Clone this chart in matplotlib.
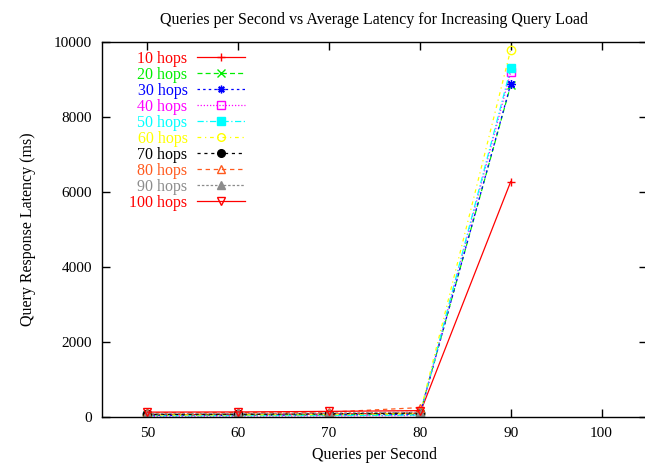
import matplotlib
matplotlib.use("Agg")
import matplotlib.pyplot as plt

plt.rcParams["font.family"] = ["Liberation Serif", "DejaVu Serif"]
plt.rcParams["font.size"] = 11

# Offered load (queries per second)
qps = [50, 60, 70, 80, 90]

# Average query response latency (ms) per TTL hop count
hop_labels = ["10 hops", "20 hops", "30 hops", "40 hops", "50 hops",
              "60 hops", "70 hops", "80 hops", "90 hops", "100 hops"]
lat_10 = [60, 70, 80, 100, 6280]
lat_20 = [45, 50, 60, 80, 8850]
lat_30 = [40, 45, 55, 70, 8880]
lat_40 = [20, 25, 30, 40, 9200]
lat_50 = [30, 35, 40, 50, 9300]
lat_60 = [50, 55, 65, 90, 9800]
lat_70 = [70, 75, 85, 110]
lat_80 = [110, 115, 130, 250]
lat_90 = [90, 95, 105, 130]
lat_100 = [130, 135, 150, 170]

series = [lat_10, lat_20, lat_30, lat_40, lat_50,
          lat_60, lat_70, lat_80, lat_90, lat_100]

styles = [
    dict(color="#ff0000", ls="-", marker="+", mfc="none"),
    dict(color="#00ee00", ls=(0, (4, 2.5)), marker="x", mfc="none"),
    dict(color="#0000ff", ls=(0, (2, 2.5)), marker=(8, 2, 0), mfc="none"),
    dict(color="#ff00ff", ls=(0, (1, 1.5)), marker="s", mfc="none"),
    dict(color="#00ffff", ls=(0, (5, 2, 1, 2)), marker="s", mfc="#00ffff"),
    dict(color="#ffff00", ls=(0, (3, 3, 1, 3)), marker="o", mfc="none"),
    dict(color="#000000", ls=(0, (2.5, 3)), marker="o", mfc="#000000"),
    dict(color="#ff5a1e", ls=(0, (3.5, 3)), marker="^", mfc="none"),
    dict(color="#8c8c8c", ls=(0, (2, 1.5)), marker="^", mfc="#8c8c8c"),
    dict(color="#ff0000", ls="-", marker="v", mfc="none"),
]

fig = plt.figure(figsize=(6.45, 4.7), dpi=100)
ax = fig.add_axes([102 / 645, 53 / 470, 545 / 645, 375 / 470])

for label, ys, st in zip(hop_labels, series, styles):
    ax.plot(qps[:len(ys)], ys, label=label, color=st["color"], ls=st["ls"],
            lw=0.9, marker=st["marker"], markersize=6, mew=1.0,
            mfc=st["mfc"], mec=st["color"])

ax.set_xlim(45, 105)
ax.set_ylim(0, 10000)
ax.set_xticks([50, 60, 70, 80, 90, 100])
ax.set_yticks([0, 2000, 4000, 6000, 8000, 10000])
ax.tick_params(direction="in", top=True, right=True, length=6, width=1, pad=7)
for sp in ax.spines.values():
    sp.set_linewidth(1.0)

ax.set_title("Queries per Second vs Average Latency for Increasing Query Load",
             fontsize=11.5, pad=13)
ax.set_xlabel("Queries per Second", fontsize=11.5, labelpad=5)
ax.set_ylabel("Query Response Latency (ms)", fontsize=11.5, labelpad=13)

leg = ax.legend(loc="upper right", bbox_to_anchor=(245 / 645, 1 - 51 / 470),
                bbox_transform=fig.transFigure, frameon=False,
                markerfirst=False, numpoints=1, fontsize=11.5,
                handlelength=3.0, handletextpad=0.6, borderpad=0,
                borderaxespad=0, labelspacing=0.0, labelcolor="linecolor")
for h in leg.legend_handles:
    h.set_markersize(5.5)

fig.savefig("out.png", dpi=100)
